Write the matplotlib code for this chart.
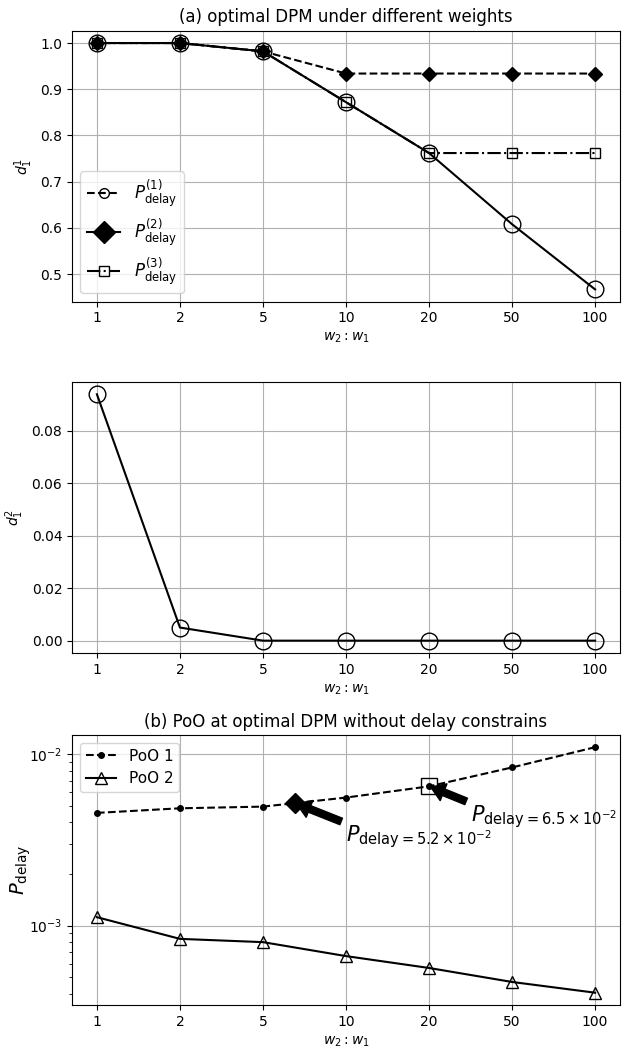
import numpy as np
import matplotlib.pyplot as plt
from matplotlib.lines import Line2D

# weight ratios w2:w1 (plotted at evenly spaced positions)
ratios = ['1', '2', '5', '10', '20', '50', '100']

# (a) optimal DPM, first component d_1^1 under three delay constraints
d11_p1 = [1.0, 1.0, 0.982, 0.872, 0.762, 0.608, 0.467]
d11_p2 = [1.0, 1.0, 0.982, 0.934, 0.934, 0.934, 0.934]
d11_p3 = [1.0, 1.0, 0.982, 0.872, 0.762, 0.762, 0.762]

# second component d_1^2
d12 = [0.094, 0.005, 0.0, 0.0, 0.0, 0.0, 0.0]

# (b) PoO without delay constraints
poo1 = [0.00455, 0.00484, 0.00495, 0.00559, 0.0065, 0.00838, 0.0110]
poo2 = [0.00112, 0.000837, 0.000801, 0.000664, 0.000566, 0.000469, 0.000406]

# highlighted operating points (mantissa, x position)
mark1_val, mark1_x = 5.2, 2.38
mark2_val, mark2_x = 6.5, 4.0

x = np.arange(len(ratios))

fig = plt.figure(figsize=(6.24, 10.52), dpi=100)
left, width = 0.1154, 0.8782
ax1 = fig.add_axes([left, 0.7132, width, 0.2576])
ax2 = fig.add_axes([left, 0.3793, width, 0.2576])
ax3 = fig.add_axes([left, 0.0447, width, 0.2567])

# --- panel 1 ---
ax1.plot(x, d11_p2, 'k--', marker='D', markersize=7, lw=1.5)
ax1.plot(x, d11_p3, 'k-.', marker='s', markersize=7, fillstyle='none', lw=1.5)
ax1.plot(x, d11_p1, 'k-', marker='o', markersize=12, fillstyle='none', lw=1.5)
ax1.set_title('(a) optimal DPM under different weights', fontsize=12)
ax1.set_ylabel(r'$d_1^1$')
ax1.set_xlabel(r'$w_2:w_1$')
ax1.set_xticks(x, ratios)
ax1.grid(True)
handles = [
    Line2D([], [], color='k', ls='--', marker='o', markersize=7, fillstyle='none', lw=1.5),
    Line2D([], [], color='k', ls='-', marker='D', markersize=11, lw=1.5),
    Line2D([], [], color='k', ls='-.', marker='s', markersize=6.5, fillstyle='none', lw=1.5),
]
labels = [r'$P^{(1)}_{\mathrm{delay}}$', r'$P^{(2)}_{\mathrm{delay}}$',
          r'$P^{(3)}_{\mathrm{delay}}$']
ax1.legend(handles, labels, loc='lower left', fontsize=12)

# --- panel 2 ---
ax2.plot(x, d12, 'k-', marker='o', markersize=12, fillstyle='none', lw=1.5)
ax2.set_ylabel(r'$d_1^2$')
ax2.set_xlabel(r'$w_2:w_1$')
ax2.set_xticks(x, ratios)
ax2.grid(True)

# --- panel 3 ---
ax3.semilogy(x, poo1, 'k--', marker='.', markersize=8, lw=1.5, label='PoO 1')
ax3.semilogy(x, poo2, 'k-', marker='^', markersize=8, fillstyle='none', lw=1.5,
             label='PoO 2')
ax3.plot(mark1_x, mark1_val * 1e-3, 'kD', markersize=10)
ax3.plot(mark2_x, mark2_val * 1e-3, 'ks', markersize=11, fillstyle='none')
arrow = dict(facecolor='black', edgecolor='black', width=5, headwidth=13,
             headlength=10, shrink=0.04)
ax3.annotate(r'$P_{\mathrm{delay}=%.1f\times10^{-2}}$' % mark1_val,
             xy=(mark1_x, mark1_val * 1e-3), xytext=(3.0, 0.0033),
             fontsize=15, va='center', arrowprops=arrow)
ax3.annotate(r'$P_{\mathrm{delay}=%.1f\times10^{-2}}$' % mark2_val,
             xy=(mark2_x, mark2_val * 1e-3), xytext=(4.5, 0.00433),
             fontsize=15, va='center', arrowprops=arrow)
ax3.set_title('(b) PoO at optimal DPM without delay constrains', fontsize=12)
ax3.set_ylabel(r'$P_{\mathrm{delay}}$', fontsize=14)
ax3.yaxis.set_label_coords(-0.071, 0.5)
ax3.set_xlabel(r'$w_2:w_1$')
ax3.set_xticks(x, ratios)
ax3.grid(True)
ax3.legend(loc='upper left', fontsize=11)

fig.savefig('out.png', dpi=100)
